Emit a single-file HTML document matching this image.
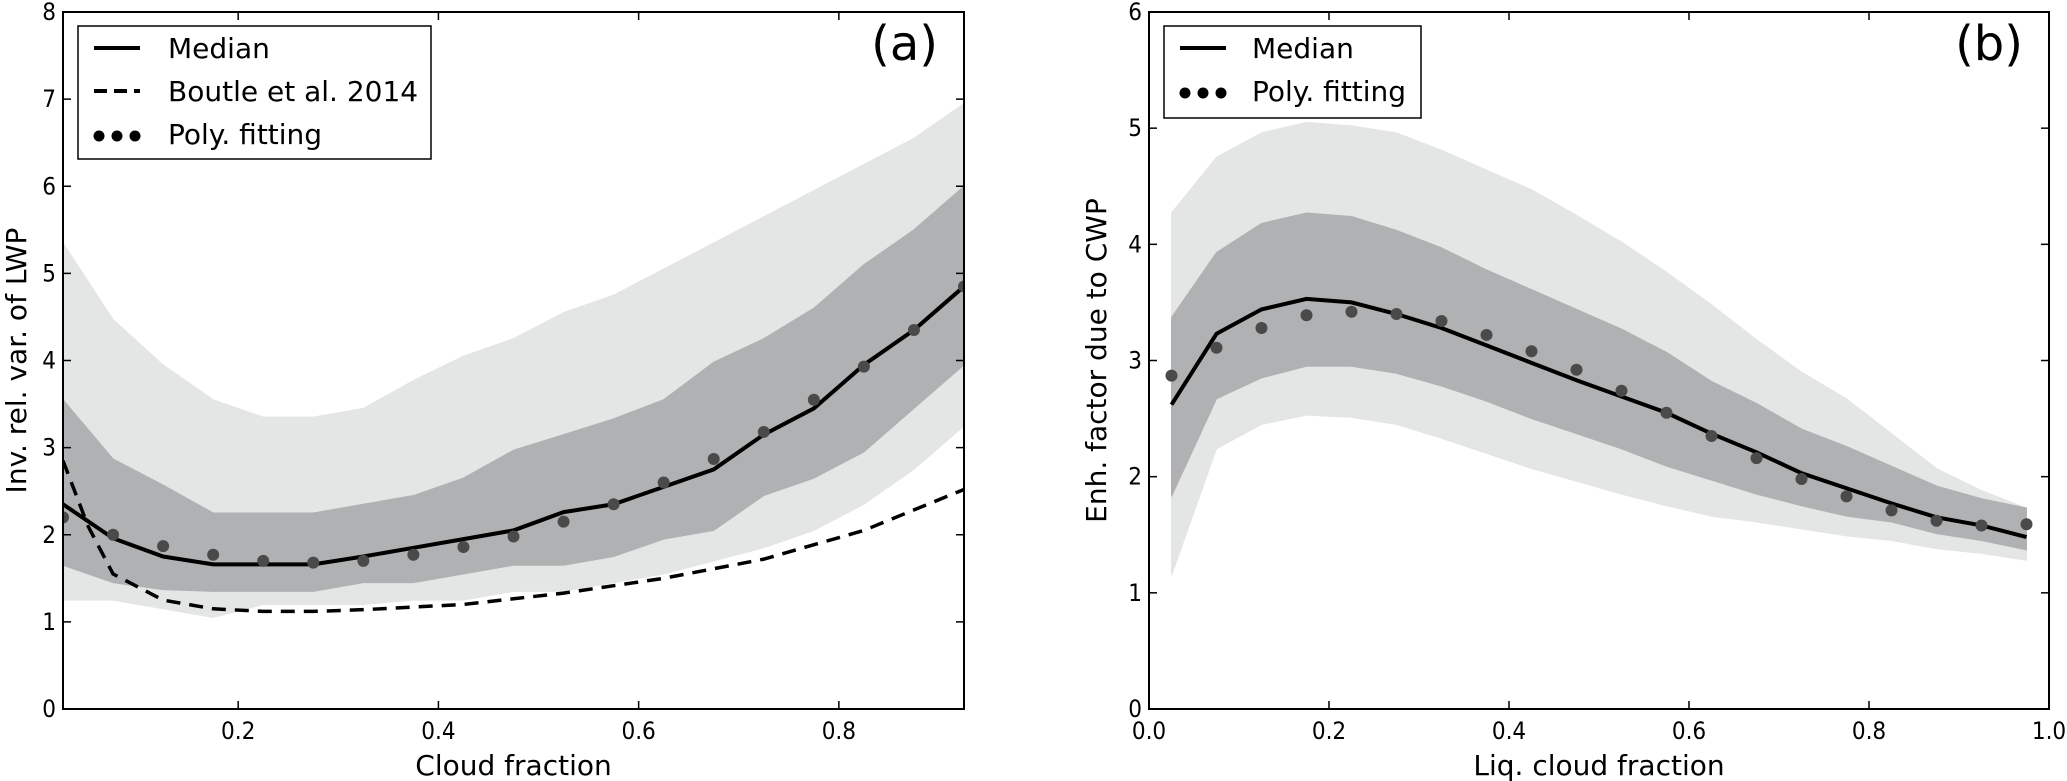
<!DOCTYPE html>
<html><head><meta charset="utf-8"><style>
html,body{margin:0;padding:0;background:#fff;}
svg{display:block;font-family:"DejaVu Sans","Liberation Sans",sans-serif;}
.tick{font-size:24px;font-stretch:condensed;}
.lab{font-size:28px;}
</style></head><body>
<svg id="fig" width="2067" height="781" viewBox="0 0 2067 781" xmlns="http://www.w3.org/2000/svg"></svg>
<script>
// ---- Panel (a) data ----
const xA = [0.025,0.075,0.125,0.175,0.225,0.275,0.325,0.375,0.425,0.475,0.525,0.575,0.625,0.675,0.725,0.775,0.825,0.875,0.925];
const medianA = [2.35,1.96,1.75,1.66,1.66,1.66,1.75,1.85,1.95,2.05,2.26,2.35,2.55,2.75,3.15,3.45,3.95,4.35,4.85];
const polyA = [2.2,2.0,1.87,1.77,1.7,1.68,1.7,1.77,1.86,1.98,2.15,2.35,2.6,2.87,3.18,3.55,3.93,4.35,4.85];
const darkUpA = [3.55,2.87,2.57,2.25,2.25,2.25,2.35,2.45,2.65,2.97,3.15,3.33,3.55,3.98,4.25,4.6,5.1,5.5,6.0];
const darkLoA = [1.65,1.45,1.37,1.35,1.35,1.35,1.45,1.45,1.55,1.65,1.65,1.75,1.95,2.05,2.45,2.65,2.95,3.45,3.95];
const lightUpA = [5.35,4.47,3.95,3.55,3.35,3.35,3.45,3.77,4.05,4.25,4.55,4.75,5.05,5.35,5.65,5.95,6.25,6.55,6.95];
const lightLoA = [1.25,1.25,1.15,1.05,1.2,1.2,1.2,1.25,1.25,1.35,1.35,1.45,1.55,1.7,1.85,2.05,2.35,2.75,3.25];
const xBoutle = [0.025,0.05,0.075,0.1,0.125,0.175,0.225,0.275,0.325,0.425,0.525,0.625,0.725,0.825,0.925];
const boutle = [2.85,2.1,1.55,1.4,1.25,1.15,1.12,1.12,1.14,1.2,1.33,1.5,1.72,2.05,2.52];
const xTicksA = [0.2,0.4,0.6,0.8];
const xTickLabelsA = ["0.2","0.4","0.6","0.8"];
const yTicksA = [0,1,2,3,4,5,6,7,8];
// ---- Panel (b) data ----
const xB = [0.025,0.075,0.125,0.175,0.225,0.275,0.325,0.375,0.425,0.475,0.525,0.575,0.625,0.675,0.725,0.775,0.825,0.875,0.925,0.975];
const medianB = [2.62,3.23,3.44,3.53,3.5,3.4,3.28,3.13,2.98,2.83,2.69,2.55,2.37,2.21,2.03,1.9,1.77,1.65,1.58,1.48];
const polyB = [2.87,3.11,3.28,3.39,3.42,3.4,3.34,3.22,3.08,2.92,2.74,2.55,2.35,2.16,1.98,1.83,1.71,1.62,1.58,1.59];
const darkUpB = [3.37,3.93,4.18,4.27,4.24,4.12,3.97,3.78,3.61,3.44,3.27,3.07,2.82,2.63,2.41,2.26,2.09,1.92,1.81,1.73];
const darkLoB = [1.83,2.67,2.85,2.95,2.95,2.89,2.78,2.65,2.5,2.37,2.24,2.09,1.97,1.85,1.75,1.66,1.61,1.51,1.45,1.37];
const lightUpB = [4.27,4.75,4.96,5.05,5.02,4.96,4.81,4.64,4.47,4.25,4.02,3.76,3.48,3.18,2.9,2.67,2.37,2.07,1.88,1.73];
const lightLoB = [1.15,2.24,2.45,2.53,2.51,2.45,2.33,2.2,2.07,1.96,1.85,1.75,1.66,1.61,1.55,1.49,1.45,1.38,1.34,1.28];
const xTicksB = [0,0.2,0.4,0.6,0.8,1.0];
const xTickLabelsB = ["0.0","0.2","0.4","0.6","0.8","1.0"];
const yTicksB = [0,1,2,3,4,5,6];

const NS="http://www.w3.org/2000/svg";
const svg=document.getElementById('fig');
function mk(tag,attrs,parent){const e=document.createElementNS(NS,tag);for(const k in attrs)e.setAttribute(k,attrs[k]);(parent||svg).appendChild(e);return e;}

function panel(o){
  const g=mk('g',{});
  
  
  const sx=v=>o.L+(v-o.x0)/(o.x1-o.x0)*(o.R-o.L);
  const sy=v=>o.B-(v-o.y0)/(o.y1-o.y0)*(o.B-o.T);
  const band=(xs,up,lo,fill,nm)=>{
    let d='M'+xs.map((x,i)=>sx(x)+','+sy(up[i])).join('L');
    for(let i=xs.length-1;i>=0;i--)d+='L'+sx(xs[i])+','+sy(lo[i]);
    const p=mk('path',{d:d+'Z',fill:fill,stroke:fill},g);
    
    
  };
  band(o.xs,o.lu,o.ll,'#e4e5e5','outer-band');
  band(o.xs,o.du,o.dl,'#b0b1b2','inner-band');
  const cp=mk('clipPath',{id:'clip'+o.id},g);
  mk('rect',{x:o.L,y:o.T,width:o.R-o.L,height:o.B-o.T},cp);
  if(o.bx){
    const p=mk('path',{d:'M'+o.bx.map((x,i)=>sx(x)+','+sy(o.by[i])).join('L'),fill:'none',stroke:'#000','stroke-width':3.5,'stroke-dasharray':'14,9','clip-path':'url(#clip'+o.id+')'},g);
    
    
  }
  const med=mk('path',{d:'M'+o.xs.map((x,i)=>sx(x)+','+sy(o.med[i])).join('L'),fill:'none',stroke:'#000','stroke-width':4},g);
  
  
  o.xs.forEach((x,i)=>{
    const c=mk('circle',{cx:sx(x),cy:sy(o.poly[i]),r:6,fill:'#4a4a4a','clip-path':'url(#clip'+o.id+')'},g);
    
    
  });
  const fr=mk('rect',{x:o.L,y:o.T,width:o.R-o.L,height:o.B-o.T,fill:'none',stroke:'#000','stroke-width':2},g);
  
  
  o.xt.forEach((v,i)=>{
    const x=sx(v);
    mk('line',{x1:x,y1:o.B,x2:x,y2:o.B-8,stroke:'#000','stroke-width':1.5},g);
    mk('line',{x1:x,y1:o.T,x2:x,y2:o.T+8,stroke:'#000','stroke-width':1.5},g);
    const t=mk('text',{x:x,y:o.B+30,'text-anchor':'middle',class:'tick'},g);
    t.textContent=o.xtl[i];
    
    
  });
  o.yt.forEach(v=>{
    const y=sy(v);
    mk('line',{x1:o.L,y1:y,x2:o.L+8,y2:y,stroke:'#000','stroke-width':1.5},g);
    mk('line',{x1:o.R,y1:y,x2:o.R-8,y2:y,stroke:'#000','stroke-width':1.5},g);
    const t=mk('text',{x:o.L-7,y:y+8,'text-anchor':'end',class:'tick'},g);
    t.textContent=String(v);
    
    
  });
  const xl=mk('text',{x:(o.L+o.R)/2,y:775,'text-anchor':'middle',class:'lab'},g);
  xl.textContent=o.xlab;
  
  
  const yc=(o.T+o.B)/2;
  const yl=mk('text',{x:o.ylx,y:yc,'text-anchor':'middle',class:'lab',transform:'rotate(-90 '+o.ylx+' '+yc+')'},g);
  yl.textContent=o.ylab;
  
  
  const pl=mk('text',{x:o.R-26,y:60,'text-anchor':'end','font-size':'48px'},g);
  pl.textContent=o.plab;
  
  
  // legend
  const lg=mk('g',{},g);
  
  
  mk('rect',{x:o.lgx,y:26,width:o.lgw,height:o.lgh,fill:'#fff',stroke:'#000','stroke-width':1.5},lg);
  o.leg.forEach((e,i)=>{
    const y=48+i*43;
    const ex=o.lgx+16;
    if(e.t==='solid')mk('line',{x1:ex,y1:y,x2:ex+46,y2:y,stroke:'#000','stroke-width':4},lg);
    if(e.t==='dash')mk('line',{x1:ex,y1:y,x2:ex+46,y2:y,stroke:'#000','stroke-width':4,'stroke-dasharray':'13,7'},lg);
    if(e.t==='dots')[0,1,2].forEach(k=>mk('circle',{cx:ex+5+k*18,cy:y+2,r:5.5,fill:'#000'},lg));
    const t=mk('text',{x:ex+o.tx,y:y+10,'font-size':'28px'},lg);
    t.textContent=e.s;
    
    
  });
}

panel({id:'a',name:'panel-a',L:63,R:964,T:12,B:709,x0:0.025,x1:0.925,y0:0,y1:8,
  xs:xA,med:medianA,poly:polyA,du:darkUpA,dl:darkLoA,lu:lightUpA,ll:lightLoA,bx:xBoutle,by:boutle,
  xt:xTicksA,xtl:xTickLabelsA,yt:yTicksA,xlab:'Cloud fraction',ylab:'Inv. rel. var. of LWP',ylx:26,plab:'(a)',
  lgx:78,lgw:353,lgh:133,tx:74,leg:[{t:'solid',s:'Median'},{t:'dash',s:'Boutle et al. 2014'},{t:'dots',s:'Poly. fitting'}]});
panel({id:'b',name:'panel-b',L:1149,R:2049,T:12,B:709,x0:0,x1:1,y0:0,y1:6,
  xs:xB,med:medianB,poly:polyB,du:darkUpB,dl:darkLoB,lu:lightUpB,ll:lightLoB,
  xt:xTicksB,xtl:xTickLabelsB,yt:yTicksB,xlab:'Liq. cloud fraction',ylab:'Enh. factor due to CWP',ylx:1106,plab:'(b)',
  lgx:1164,lgw:257,lgh:92,tx:72,leg:[{t:'solid',s:'Median'},{t:'dots',s:'Poly. fitting'}]});
</script>
</body></html>
